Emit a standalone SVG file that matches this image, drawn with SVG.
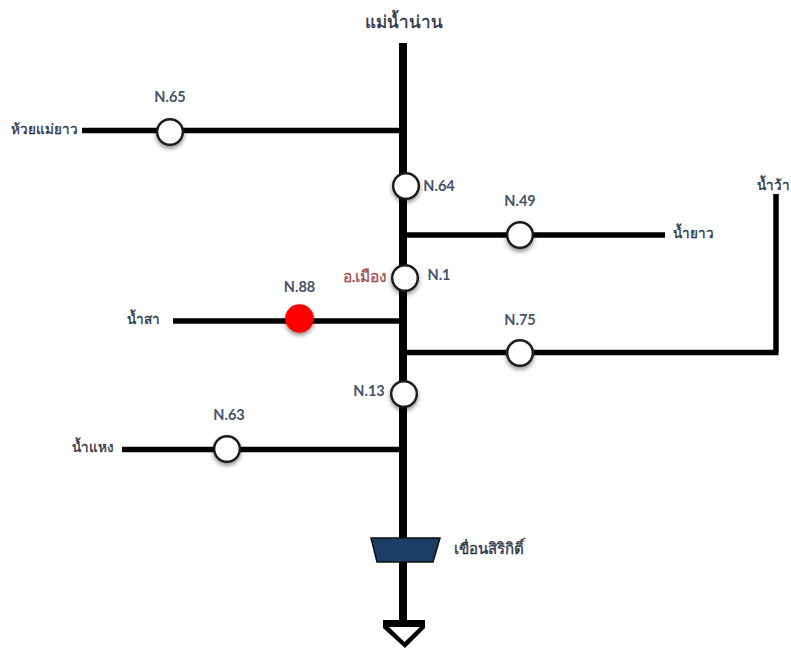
<svg xmlns="http://www.w3.org/2000/svg" width="791" height="650" viewBox="0 0 791 650">
<defs>
<filter id="sh" x="-30%" y="-30%" width="160%" height="180%"><feDropShadow dx="0" dy="2.500" stdDeviation="2" flood-color="#000" flood-opacity="0.45"/></filter>
</defs>
<style>
.l{fill:none;stroke:#000;stroke-linecap:butt;stroke-linejoin:miter}
.m{stroke-width:8}
.b{stroke-width:5.500}
.s{fill:#fff;stroke:#1a1a1a;stroke-width:2.400;filter:url(#sh)}
text{font-family:Lato,"Liberation Sans",sans-serif;font-size:14.500px;font-weight:bold;fill:#44526a;text-anchor:middle}
.t{font-size:13.500px;font-weight:normal;fill:#2a3446;stroke:#2a3446;stroke-width:.35}
.big{font-size:17px;font-weight:normal;fill:#2a3446;stroke:#2a3446;stroke-width:.4}
.red{font-size:15.500px;font-weight:normal;fill:#a0524f;stroke:#a0524f;stroke-width:.35}
</style>
<rect width="791" height="650" fill="#fff"/>
<g id="connectors">
<path class="l m" d="M403 43V621"/>
<path class="l b" d="M82 130.500H403"/>
<path class="l b" d="M403 235H665"/>
<path class="l b" d="M173 321H403"/>
<path class="l b" d="M403 352.500H778.500M776 352.500V194"/>
<path class="l b" d="M122 449.500H403"/>
<path d="M383 620H425V628L405 648L383 628Z" fill="#000"/>
<path d="M389 627H420L404.500 642Z" fill="#fff"/>
</g>
<g id="river-nan"><text class="big" x="404" y="28">แม่น้ำน่าน</text></g>
<g id="n65"><circle class="s" cx="170" cy="132" r="12.800"/><text x="170" y="102">N.65</text></g>
<g id="huai-mae-yao"><text class="t" x="44" y="134">ห้วยแม่ยาว</text></g>
<g id="n64"><circle class="s" cx="406" cy="186" r="12.800"/><text x="439" y="191">N.64</text></g>
<g id="n49"><circle class="s" cx="520" cy="235" r="12.800"/><text x="520" y="206">N.49</text></g>
<g id="nam-yao"><text class="t" x="693" y="238">น้ำยาว</text></g>
<g id="nam-wa"><text class="t" x="773" y="190">น้ำว้า</text></g>
<g id="n1"><circle class="s" cx="405" cy="278" r="12.800"/><text x="439" y="280">N.1</text><text class="red" x="365" y="282">อ.เมือง</text></g>
<g id="n88"><circle cx="299.500" cy="318.500" r="14.300" fill="#f00" filter="url(#sh)"/><text x="299.500" y="292">N.88</text></g>
<g id="nam-sa"><text class="t" x="143" y="324">น้ำสา</text></g>
<g id="n75"><circle class="s" cx="520" cy="353" r="12.800"/><text x="520" y="325">N.75</text></g>
<g id="n13"><circle class="s" cx="404" cy="394" r="12.800"/><text x="369" y="396">N.13</text></g>
<g id="n63"><circle class="s" cx="227" cy="449" r="12.800"/><text x="229" y="420">N.63</text></g>
<g id="nam-haeng"><text class="t" x="93" y="452">น้ำแหง</text></g>
<g id="sirikit-dam"><path d="M371 538H440L433 562H377Z" fill="#1b3d66" stroke="#111" stroke-width="1.500"/><text class="t" x="489" y="554" style="font-size:15px">เขื่อนสิริกิติ์</text></g>
</svg>
